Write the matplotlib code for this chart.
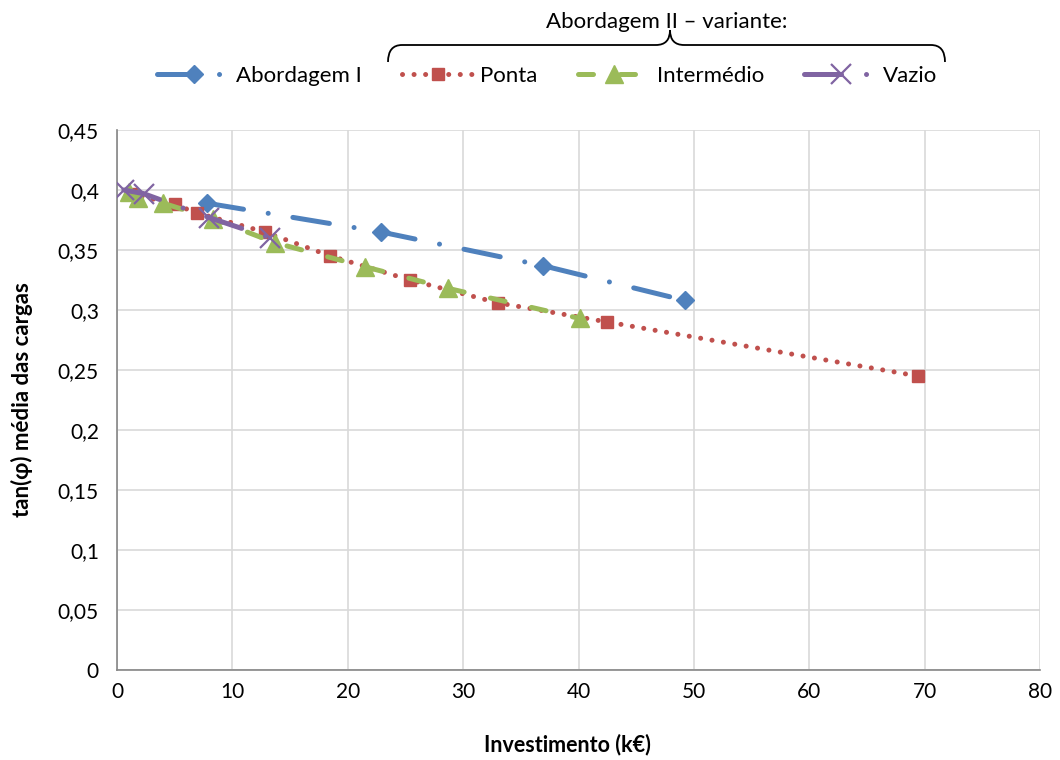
import numpy as np
import matplotlib.pyplot as plt
from matplotlib.path import Path
from matplotlib.patches import PathPatch
from matplotlib.ticker import FuncFormatter

plt.rcParams['font.family'] = ['Lato', 'DejaVu Sans']

# Data
ab1_x = [7.8, 22.9, 36.9, 49.2]
ab1_y = [0.389, 0.365, 0.337, 0.308]

ponta_x = [1.2, 5.0, 6.9, 12.8, 18.5, 25.4, 33.0, 42.5, 69.4]
ponta_y = [0.397, 0.388, 0.381, 0.365, 0.345, 0.325, 0.306, 0.290, 0.245]

inter_x = [1.0, 1.8, 4.0, 8.3, 13.7, 21.5, 28.7, 40.1]
inter_y = [0.398, 0.393, 0.389, 0.376, 0.356, 0.336, 0.318, 0.293]

vazio_x = [0.6, 2.3, 8.0, 13.3]
vazio_y = [0.400, 0.397, 0.377, 0.360]

blue = '#4F81BD'
red = '#C0504D'
green = '#9BBB59'
purple = '#8064A2'

W, H = 1060, 760
fig = plt.figure(figsize=(10.6, 7.6), dpi=100)
ax = fig.add_axes([117 / W, 90 / H, 923 / W, 540 / H])

# Excel style "long dash dot" and friends, round caps
l1, = ax.plot(ab1_x, ab1_y, color=blue, lw=3.6, ls=(0, (7.4, 5, 0.01, 5)),
              dash_capstyle='round', marker='D', ms=9.5, mec=blue, zorder=3)
l2, = ax.plot(ponta_x, ponta_y, color=red, lw=3.6, ls=(0, (0.01, 2.3)),
              dash_capstyle='round', marker='s', ms=8, mec=red, zorder=3)
l3, = ax.plot(inter_x, inter_y, color=green, lw=3.6, ls=(0, (3, 5.4)),
              dash_capstyle='round', marker='^', ms=13, mec=green, zorder=4)
l4, = ax.plot(vazio_x, vazio_y, color=purple, lw=3.6, ls=(0, (7.4, 5, 0.01, 5)),
              dash_capstyle='round', marker='x', ms=14, mew=1.6, mec=purple, zorder=5)

ax.set_xlim(0, 80)
ax.set_ylim(0, 0.45)
ax.set_xticks(np.arange(0, 81, 10))
ax.set_yticks(np.arange(0, 0.451, 0.05))
ax.yaxis.set_major_formatter(FuncFormatter(
    lambda v, p: '0' if abs(v) < 1e-9 else ('%.2f' % v).rstrip('0').replace('.', ',')))
ax.grid(True, color='#D9D9D9', lw=1.2)
ax.set_axisbelow(True)
for s in ['top', 'right']:
    ax.spines[s].set_visible(False)
for s in ['left', 'bottom']:
    ax.spines[s].set_color('#868686')
    ax.spines[s].set_linewidth(1.2)
ax.tick_params(length=0, labelsize=15)
ax.tick_params(axis='y', pad=13)
ax.tick_params(axis='x', pad=9)

ax.set_xlabel('Investimento (k€)', fontsize=15.5, fontweight='bold')
ax.set_ylabel('tan(φ) média das cargas', fontsize=16, fontweight='bold')
ax.xaxis.set_label_coords((567 - 117) / 923, -(745 - 670) / 540)
ax.yaxis.set_label_coords(-(117 - 22) / 923, 0.5)
ax.xaxis.label.set_va('center')
ax.yaxis.label.set_va('center')

fig.legend([l1, l2, l3, l4], ['Abordagem I', 'Ponta', 'Intermédio', 'Vazio'],
           loc='center', bbox_to_anchor=(0.516, 1 - 76 / H), ncol=4, frameon=False,
           fontsize=16, handlelength=3.3, columnspacing=1.8, handletextpad=0.25)

# brace over the Abordagem II entries
x0, x1, xm = 388, 945, 670
yb, yt = 62, 30
left = [(x0, yb), (x0, yb - 17), (x0 + 14, yb - 17), (xm - 14, yb - 17), (xm, yb - 17), (xm, yt)]
right = [(x1, yb), (x1, yb - 17), (x1 - 14, yb - 17), (xm + 14, yb - 17), (xm, yb - 17), (xm, yt)]
for half in (left, right):
    pv = [(vx / W, 1 - vy / H) for vx, vy in half]
    pc = [Path.MOVETO, Path.CURVE3, Path.CURVE3, Path.LINETO, Path.CURVE3, Path.CURVE3]
    fig.add_artist(PathPatch(Path(pv, pc), transform=fig.transFigure,
                             fill=False, lw=1.3, color='black'))

fig.text(667 / W, 1 - 22 / H, 'Abordagem II – variante:', ha='center', va='center', fontsize=16)

fig.savefig('out.png', dpi=100)
